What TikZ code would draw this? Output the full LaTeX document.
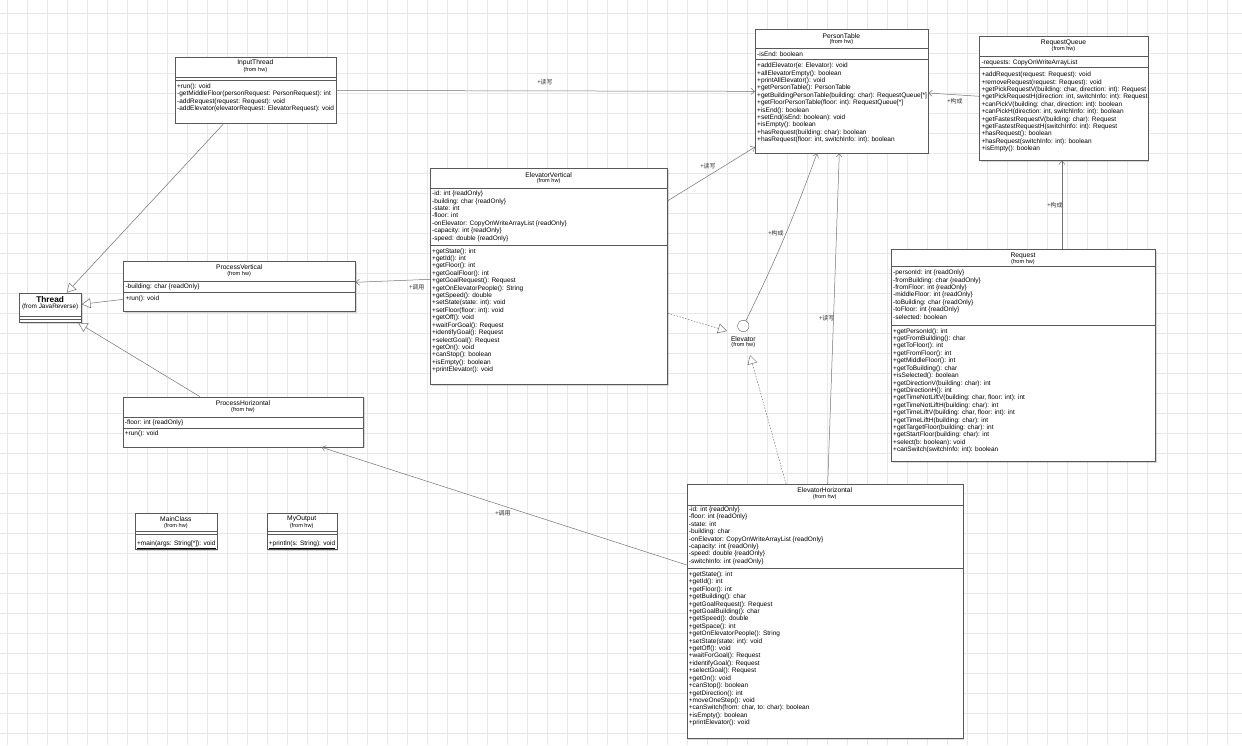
\documentclass[tikz,border=0pt]{standalone}
\usepackage{fontspec}
\setmainfont{Liberation Sans}
\newfontfamily\cjk{Noto Sans CJK SC}
\usetikzlibrary{arrows.meta, shadows}
\newcommand{\umlfont}{\fontsize{6.5}{7.42}\selectfont}
\newcommand{\umlclass}[7]{%
  \node[clsbox, minimum width=#4, minimum height=#5] (#1) at (#2,#3) {};
  \node[clsname] (#1-n) at ({#2+#4/2},{#3+6.5}) {#6};
  \node[clsfrom] (#1-f) at ({#2+#4/2},{#3+13}) {(from #7)};}
\newcommand{\umlsep}[2]{\draw[clssep] (#1.west |- 0,#2) -- (#1.east |- 0,#2);}

\begin{document}
\begin{tikzpicture}[x=1pt, y=-1pt, every node/.style={font=\umlfont, inner sep=0pt},
  clsbox/.style={draw=black!65, fill=white, line width=0.6pt, anchor=north west,
    drop shadow={shadow xshift=1.2pt, shadow yshift=-1.2pt, opacity=0.25, fill=black!60}},
  clsname/.style={font=\fontsize{6.7}{8}\selectfont},
  clsfrom/.style={font=\fontsize{5.6}{6.5}\selectfont},
  clstxt/.style={anchor=north west, align=left},
  clssep/.style={draw=black!65, line width=0.5pt},
  lbl/.style={font=\cjk\fontsize{6}{7}\selectfont, text=black!80},
  assoc/.style={draw=black!55, line width=0.5pt, -{Straight Barb[length=3.5pt,width=6pt]}},
  inherit/.style={draw=black!55, line width=0.5pt, -{Triangle[open, length=9pt, width=10pt, fill=white]}},
  realize/.style={inherit, dash pattern=on 1.5pt off 1.5pt},
  gridline/.style={draw=black!9, line width=0.4pt}]
\useasboundingbox (0,0) rectangle (1242,745);
\fill[white] (0,0) rectangle (1242,745);
% background grid
\foreach \gx in {7,27,...,1240} \draw[gridline] (\gx,0) -- (\gx,745);
\foreach \gy in {13,33,...,740} \draw[gridline] (0,\gy) -- (1242,\gy);
% InputThread
\umlclass{it}{175}{56.7}{160.7}{66}{InputThread}{hw}
\umlsep{it}{77.3}\umlsep{it}{80.7}
\node[clstxt] (it-m) at (177,83.4) {+run(): void\\-getMiddleFloor(personRequest: PersonRequest): int\\-addRequest(request: Request): void\\-addElevator(elevatorRequest: ElevatorRequest): void};
% PersonTable
\umlclass{pt}{755}{29.3}{172.7}{123.4}{PersonTable}{hw}
\umlsep{pt}{48.7}\umlsep{pt}{59.7}
\node[clstxt] (pt-a) at (757,51.7) {-isEnd: boolean};
\node[clstxt] (pt-m) at (757,62.7) {+addElevator(e: Elevator): void\\+allElevatorEmpty(): boolean\\+printAllElevator(): void\\+getPersonTable(): PersonTable\\+getBuildingPersonTable(building: char): RequestQueue[*]\\+getFloorPersonTable(floor: int): RequestQueue[*]\\+isEnd(): boolean\\+setEnd(isEnd: boolean): void\\+isEmpty(): boolean\\+hasRequest(building: char): boolean\\+hasRequest(floor: int, switchInfo: int): boolean};
% RequestQueue
\umlclass{rq}{979.3}{36}{168.4}{124}{RequestQueue}{hw}
\umlsep{rq}{56.3}\umlsep{rq}{67.7}
\node[clstxt] (rq-a) at (981.3,59.4) {-requests: CopyOnWriteArrayList};
\node[clstxt] (rq-m) at (981.3,71.7) {+addRequest(request: Request): void\\+removeRequest(request: Request): void\\+getPickRequestV(building: char, direction: int): Request\\+getPickRequestH(direction: int, switchInfo: int): Request\\+canPickV(building: char, direction: int): boolean\\+canPickH(direction: int, switchInfo: int): boolean\\+getFastestRequestV(building: char): Request\\+getFastestRequestH(switchInfo: int): Request\\+hasRequest(): boolean\\+hasRequest(switchInfo: int): boolean\\+isEmpty(): boolean};
% ElevatorVertical
\umlclass{ev}{430}{168.3}{237.3}{216}{ElevatorVertical}{hw}
\umlsep{ev}{188.3}\umlsep{ev}{245}
\node[clstxt] (ev-a) at (432,190.7) {-id: int \{readOnly\}\\-building: char \{readOnly\}\\-state: int\\-floor: int\\-onElevator: CopyOnWriteArrayList \{readOnly\}\\-capacity: int \{readOnly\}\\-speed: double \{readOnly\}};
\node[clstxt] (ev-m) at (432,248.1) {+getState(): int\\+getId(): int\\+getFloor(): int\\+getGoalFloor(): int\\+getGoalRequest(): Request\\+getOnElevatorPeople(): String\\+getSpeed(): double\\+setState(state: int): void\\+setFloor(floor: int): void\\+getOff(): void\\+waitForGoal(): Request\\+identifyGoal(): Request\\+selectGoal(): Request\\+getOn(): void\\+canStop(): boolean\\+isEmpty(): boolean\\+printElevator(): void};
% Request
\umlclass{req}{891}{249}{264}{212}{Request}{hw}
\umlsep{req}{266}\umlsep{req}{325}
\node[clstxt] (req-a) at (893,269.8) {-personId: int \{readOnly\}\\-fromBuilding: char \{readOnly\}\\-fromFloor: int \{readOnly\}\\-middleFloor: int \{readOnly\}\\-toBuilding: char \{readOnly\}\\-toFloor: int \{readOnly\}\\-selected: boolean};
\node[clstxt] (req-m) at (893,328.2) {+getPersonId(): int\\+getFromBuilding(): char\\+getToFloor(): int\\+getFromFloor(): int\\+getMiddleFloor(): int\\+getToBuilding(): char\\+isSelected(): boolean\\+getDirectionV(building: char): int\\+getDirectionH(): int\\+getTimeNotLiftV(building: char, floor: int): int\\+getTimeNotLiftH(building: char): int\\+getTimeLiftV(building: char, floor: int): int\\+getTimeLiftH(building: char): int\\+getTargetFloor(building: char): int\\+getStartFloor(building: char): int\\+select(b: boolean): void\\+canSwitch(switchInfo: int): boolean};
% ElevatorHorizontal
\umlclass{eh}{686.7}{484}{276}{254.3}{ElevatorHorizontal}{hw}
\umlsep{eh}{505}\umlsep{eh}{568.3}
\node[clstxt] (eh-a) at (688.7,506.4) {-id: int \{readOnly\}\\-floor: int \{readOnly\}\\-state: int\\-building: char\\-onElevator: CopyOnWriteArrayList \{readOnly\}\\-capacity: int \{readOnly\}\\-speed: double \{readOnly\}\\-switchInfo: int \{readOnly\}};
\node[clstxt] (eh-m) at (688.7,571.4) {+getState(): int\\+getId(): int\\+getFloor(): int\\+getBuilding(): char\\+getGoalRequest(): Request\\+getGoalBuilding(): char\\+getSpeed(): double\\+getSpace(): int\\+getOnElevatorPeople(): String\\+setState(state: int): void\\+getOff(): void\\+waitForGoal(): Request\\+identifyGoal(): Request\\+selectGoal(): Request\\+getOn(): void\\+canStop(): boolean\\+getDirection(): int\\+moveOneStep(): void\\+canSwitch(from: char, to: char): boolean\\+isEmpty(): boolean\\+printElevator(): void};
% ProcessVertical
\umlclass{pv}{123.3}{261}{231.7}{50}{ProcessVertical}{hw}
\umlsep{pv}{281.7}\umlsep{pv}{292.3}
\node[clstxt] (pv-a) at (125.3,283.1) {-building: char \{readOnly\}};
\node[clstxt] (pv-m) at (125.3,295.1) {+run(): void};
% Thread (larger type)
\begin{scope}[clsname/.append style={font=\bfseries\fontsize{8.3}{9}\selectfont},
  clsfrom/.append style={font=\fontsize{6.4}{7}\selectfont, yshift=-0.8pt}]
\umlclass{th}{19.3}{292.7}{61.7}{29.6}{Thread}{JavaReverse}
\end{scope}
\umlsep{th}{316}\umlsep{th}{319}
% ProcessHorizontal
\umlclass{ph}{122.7}{396.7}{240.6}{50}{ProcessHorizontal}{hw}
\umlsep{ph}{417.7}\umlsep{ph}{428.3}
\node[clstxt] (ph-a) at (124.7,419.4) {-floor: int \{readOnly\}};
\node[clstxt] (ph-m) at (124.7,430.7) {+run(): void};
% MainClass, MyOutput
\umlclass{mc}{135}{512.7}{81.7}{36.6}{MainClass}{hw}
\umlsep{mc}{531.7}\umlsep{mc}{534.3}
\node[clstxt] (mc-m) at (137,540.1) {\underline{+main(args: String[*]): void}};
\umlclass{mo}{266.7}{512.7}{70}{36.6}{MyOutput}{hw}
\umlsep{mo}{531.7}\umlsep{mo}{534.3}
\node[clstxt] (mo-m) at (268.7,540.1) {\underline{+println(s: String): void}};
% Elevator interface
\node[draw=black!65, fill=white, circle, minimum size=11.4] (el) at (743.3,326) {};
\node[clsname] (el-n) at (743.3,338.7) {Elevator};
\node[clsfrom] (el-f) at (743.3,345.3) {(from hw)};
\coordinate (el-w) at (727,331);
\coordinate (el-s) at (750,355);
% associations
\draw[assoc] (it.east |- 0,90.5) -- (pt.west |- 0,91.3);
\draw[assoc] (rq.west |- 0,96.3) -- (pt.east |- 0,93);
\draw[assoc] (req.north -| 1062,0) -- (rq.south -| 1062,0);
\draw[assoc] (ev.east |- 0,200.7) -- (pt.west |- 0,147);
\draw[assoc] (el) to[bend right=3] (pt.south -| 817,0);
\draw[assoc] (eh.north -| 827.7,0) -- (pt.south -| 839.3,0);
\draw[assoc] (ev.west |- 0,279.3) -- (pv.east |- 0,282.3);
\draw[assoc] (eh.west |- 0,565) -- (ph.south -| 321.7,0);
% realizations
\draw[realize] (ev.east |- 0,313.3) -- (el-w);
\draw[realize] (eh.north -| 786,0) -- (el-s);
% generalizations
\draw[inherit] (it.south -| 224,0) -- (th.north -| 66.7,0);
\draw[inherit] (pv.west |- 0,299.3) -- (th.east |- 0,304.3);
\draw[inherit] (ph.north -| 200,0) -- (th.south -| 78.3,0);
% role labels
\node[lbl] (l-it) at (545,82.7) {+读写};
\node[lbl] (l-rq) at (955,101.3) {+构成};
\node[lbl] (l-req) at (1055,205) {+构成};
\node[lbl] (l-ev) at (708,166) {+读写};
\node[lbl] (l-el) at (776,233) {+构成};
\node[lbl] (l-eh) at (826.7,318.3) {+读写};
\node[lbl] (l-pv) at (416.7,287.3) {+调用};
\node[lbl] (l-ph) at (503,513.5) {+调用};
\end{tikzpicture}
\end{document}
